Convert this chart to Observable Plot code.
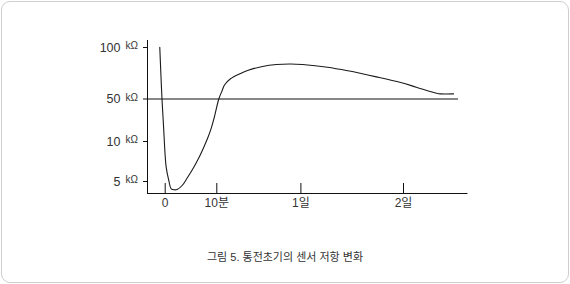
<!DOCTYPE html>
<html>
<head>
<meta charset="utf-8">
<script src="https://cdn.jsdelivr.net/npm/d3@7"></script>
<script src="https://cdn.jsdelivr.net/npm/@observablehq/plot@0.6"></script>
<style>
  html, body { margin: 0; padding: 0; background: #fff; }
  #wrap { position: relative; width: 570px; height: 284px; overflow: hidden; }
  #border { position: absolute; left: 1px; top: 1px; width: 566px; height: 280px; border: 1px solid #cfcfcf; border-radius: 9px; }
  #chart { position: absolute; left: 0; top: 0; }
  #caption { position: absolute; left: 0; width: 570px; top: 249px; text-align: center;
    font-family: "Liberation Sans", "Noto Sans CJK KR", sans-serif; font-size: 11px; color: #333; line-height: 16px; }
</style>
</head>
<body>
<div id="wrap">
  <div id="border"></div>
  <div id="chart"></div>
  <div id="caption">그림 5. 통전초기의 센서 저항 변화</div>
</div>
<script>
// time since power-on, in minutes
const times = [-1.05, -0.85, -0.62, -0.33, 0.19, 0.70, 1.16, 1.80, 2.38, 3.29, 4.32, 5.54, 6.55, 7.48, 8.20, 8.78, 9.55, 44, 102, 141, 243, 413, 532, 787, 1025, 1263, 1462, 1813, 2100, 2500, 2840, 3060, 3344, 3400, 3582];
// sensor resistance, kΩ
const resistance = [100.3, 75.7, 50, 25.1, 6.79, 5.13, 4.09, 3.96, 4.03, 4.5, 5.5, 6.79, 8.0, 9.29, 12.8, 20.4, 33.5, 50, 58.3, 63.6, 69.6, 74.8, 77.7, 81.6, 83.5, 84, 83.5, 80.9, 77.4, 71.5, 66, 61.5, 55.6, 55, 55];
const xTicks = [0, 10, 1440, 2880];
const xTickLabels = ["0", "10분", "1일", "2일"];
const yTicks = [5, 10, 50, 100];
const yUnit = "kΩ";
const threshold = [50];

const data = times.map((t, i) => ({t, r: resistance[i]}));
const font = '"Liberation Sans", "Noto Sans CJK KR", sans-serif';

const chart = Plot.plot({
  width: 570,
  height: 230,
  marginLeft: 147,
  marginRight: 103.5,
  marginTop: 40,
  marginBottom: 37,
  style: {fontFamily: font, background: "transparent", color: "#333"},
  x: {type: "linear", domain: xTicks, range: [164.7, 216.3, 300.4, 403], axis: null},
  y: {type: "linear", domain: yTicks, range: [181, 141, 98.5, 47], axis: null},
  marks: [
    Plot.frame({anchor: "left", stroke: "#111"}),
    Plot.frame({anchor: "bottom", stroke: "#111"}),
    Plot.axisY({ticks: yTicks, tickSize: 4, tickFormat: () => "", label: null, stroke: "#111"}),
    Plot.ruleX(xTicks, {x: d => d, insetTop: 143, stroke: "#111"}),
    Plot.axisX({ticks: xTicks, tickSize: 0, tickPadding: 5, fontSize: 12, fill: "#333", label: null,
      tickFormat: d => xTickLabels[xTicks.indexOf(d)]}),
    Plot.text(yTicks, {y: d => d, text: d => String(d), frameAnchor: "left", textAnchor: "end",
      dx: -27, fontSize: 12.5, fill: "#333"}),
    Plot.text(yTicks, {y: d => d, text: () => yUnit, frameAnchor: "left", textAnchor: "start",
      dx: -22, dy: -1.5, fontSize: 10, fill: "#333"}),
    Plot.ruleY(threshold, {y: d => d, insetRight: 8.5, stroke: "#111"}),
    Plot.line(data, {x: "t", y: "r", curve: "catmull-rom", stroke: "#1a1a1a", strokeWidth: 1.1})
  ]
});
document.getElementById("chart").appendChild(chart);
</script>
</body>
</html>
